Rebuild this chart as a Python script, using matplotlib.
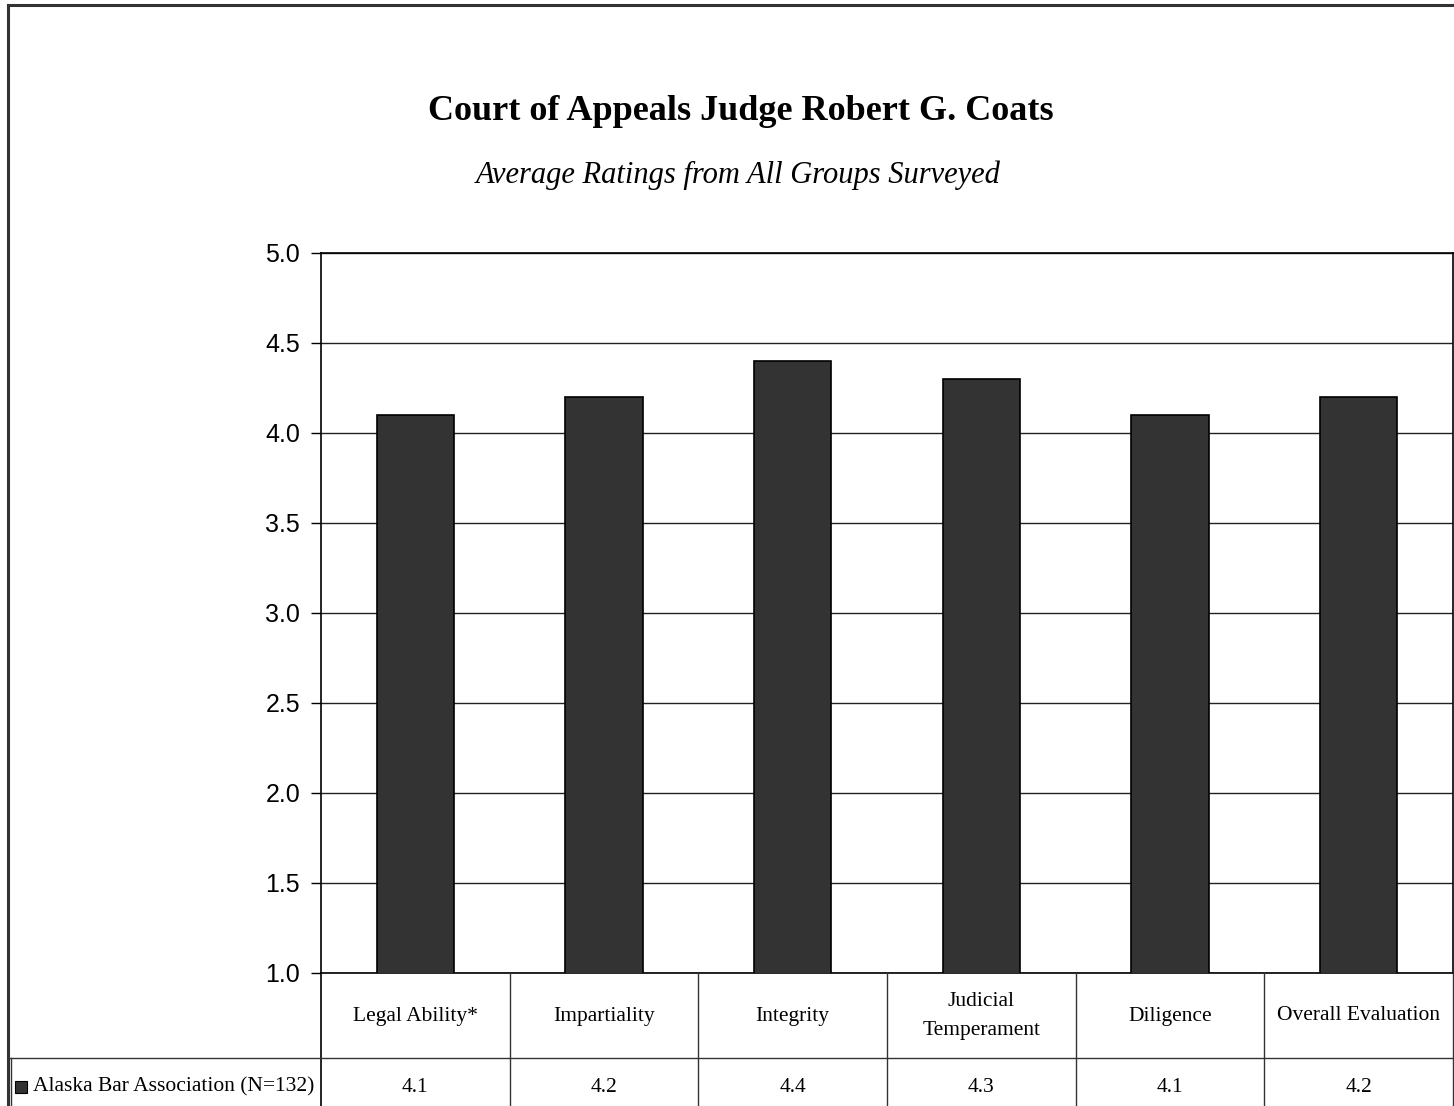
import matplotlib
matplotlib.use("Agg")
import matplotlib.pyplot as plt
from matplotlib.lines import Line2D
from matplotlib.patches import Rectangle
import numpy as np

categories = ["Legal Ability*", "Impartiality", "Integrity", "Judicial\nTemperament",
              "Diligence", "Overall Evaluation"]
series_name = "Alaska Bar Association (N=132)"
ratings = [4.1, 4.2, 4.4, 4.3, 4.1, 4.2]
yticks = [1.0, 1.5, 2.0, 2.5, 3.0, 3.5, 4.0, 4.5, 5.0]

W, H = 1454, 1106
BAR = "#333333"
SERIF = "Liberation Serif"
SANS = "Liberation Sans"


def fx(x):
    return x / W


def fy(y):
    return 1 - y / H


fig = plt.figure(figsize=(W / 100, H / 100), dpi=100)

# plot area (pixel box 321..1453 x 253..973)
L, R, T, B = 321, 1453, 253, 973
ax = fig.add_axes([fx(L), fy(B), fx(R - L), (B - T) / H])
x = np.arange(len(categories))
ax.bar(x, ratings, width=0.41, color=BAR, edgecolor="black", lw=1.2, zorder=3)
ax.set_xlim(-0.5, len(categories) - 0.5)
ax.set_ylim(1.0, 5.0)
ax.set_yticks(yticks)
ax.set_yticklabels([f"{v:.1f}" for v in yticks], fontsize=18, family=SANS)
ax.tick_params(axis="y", length=7, width=1, pad=8)
ax.set_xticks([])
ax.yaxis.grid(True, color="#222222", lw=1)
ax.set_axisbelow(True)
for s in ax.spines.values():
    s.set_color("black"); s.set_linewidth(1.2)

# titles
fig.text(fx(741), fy(112), "Court of Appeals Judge Robert G. Coats", ha="center", va="center",
         fontsize=26, fontweight="bold", family=SERIF)
fig.text(fx(738), fy(175), "Average Ratings from All Groups Surveyed", ha="center", va="center",
         fontsize=22, style="italic", family=SERIF)


def line(x0, y0, x1, y1, lw=1.0, c="#333333"):
    fig.add_artist(Line2D([fx(x0), fx(x1)], [fy(y0), fy(y1)], color=c, lw=lw))


# outer frame
line(8, 5, 1454, 5, lw=2.2)
line(8, 5, 8, 1106, lw=2.2)

# data table under the axis
cols = np.linspace(L, R, len(categories) + 1)
ROW = 1058
line(L, B, L, H, lw=1.2, c="black")
for cx in cols[1:]:
    line(cx, B, cx, H)
line(10, ROW, R, ROW)
line(11, ROW, 11, H)
for i, (cat, val) in enumerate(zip(categories, ratings)):
    cx = (cols[i] + cols[i + 1]) / 2
    fig.text(fx(cx), fy(1016), cat, ha="center", va="center", fontsize=15.5,
             family=SERIF, linespacing=1.75)
    fig.text(fx(cx), fy(1087), f"{val:.1f}", ha="center", va="center", fontsize=15.5, family=SERIF)

fig.add_artist(Rectangle((fx(15), fy(1093)), fx(12), 12 / H, facecolor=BAR,
                         edgecolor="black", lw=0.8))
fig.text(fx(33), fy(1087), series_name, ha="left", va="center", fontsize=15.5, family=SERIF)

fig.savefig("out.png", dpi=100)
